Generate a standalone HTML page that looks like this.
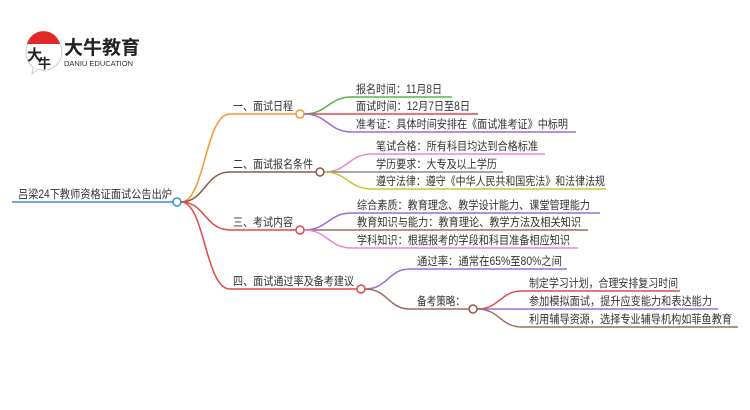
<!DOCTYPE html>
<html><head><meta charset="utf-8"><style>
html,body{margin:0;padding:0;background:#fff;}
svg{display:block}
text{font-family:"Liberation Sans","Noto Sans CJK SC",sans-serif;font-size:11.5px;fill:#333;}
</style></head><body>
<svg width="750" height="410" viewBox="0 0 750 410" xmlns="http://www.w3.org/2000/svg">
<path d="M26 52 a18 18 0 1 1 12 17 l-6 5 l1 -7 a18 18 0 0 1 -7 -15z" fill="#fff" stroke="#ccc" stroke-width="1"/>
<path d="M27 44 a17 17 0 0 1 33 0 z" fill="#e02a2a"/>
<text x="27" y="60" style="font-size:15px;fill:#222;font-weight:bold">大</text>
<text x="38" y="68" style="font-size:13px;fill:#222;font-weight:bold">牛</text>
<text x="64" y="54" style="font-size:19px;fill:#222;font-weight:bold">大牛教育</text>
<text x="64" y="66" style="font-size:7px;fill:#333" textLength="69" lengthAdjust="spacingAndGlyphs">DANIU EDUCATION</text>

<g fill="none" stroke-width="1.5">
<path d="M12 202 H173" stroke="#3a8fd8"/>
<path d="M181 202 C205 202,205 114,230 114 H296" stroke="#f7962c"/>
<path d="M181 202 C205 202,205 172,230 172 H316" stroke="#8f5a4a"/>
<path d="M181 202 C205 202,205 230,230 230 H296" stroke="#e04848"/>
<path d="M181 202 C205 202,205 289,230 289 H357" stroke="#e04848"/>
<path d="M304 114 C328 114,328 97,352 97 H452" stroke="#53b848"/>
<path d="M304 114 H478" stroke="#e04848"/>
<path d="M304 114 C328 114,328 132,352 132 H576" stroke="#9a6cd6"/>
<path d="M324 172 C348 172,348 154,372 154 H545" stroke="#ec86d0"/>
<path d="M324 172 H503" stroke="#888"/>
<path d="M324 172 C348 172,348 189,372 189 H606" stroke="#c8c832"/>
<path d="M304 230 C328 230,328 213,352 213 H600" stroke="#9a6cd6"/>
<path d="M304 230 H588" stroke="#9a6e62"/>
<path d="M304 230 C328 230,328 248,352 248 H578" stroke="#ec86d0"/>
<path d="M365 289 C388 289,388 269,410 269 H567" stroke="#9a6cd6"/>
<path d="M365 289 C388 289,388 309,410 309 H469" stroke="#9a6e62"/>
<path d="M477 309 C500 309,500 291,522 291 H680" stroke="#e04848"/>
<path d="M477 309 H718" stroke="#9a6cd6"/>
<path d="M477 309 C500 309,500 327,522 327 H738" stroke="#9a6e62"/>
</g>
<g fill="#fff" stroke-width="1.5">
<circle cx="177" cy="202" r="4" stroke="#3a8fd8"/>
<circle cx="300" cy="114" r="4" stroke="#f7962c"/>
<circle cx="320" cy="172" r="4" stroke="#8f5a4a"/>
<circle cx="300" cy="230" r="4" stroke="#e04848"/>
<circle cx="361" cy="289" r="4" stroke="#e04848"/>
<circle cx="473" cy="309" r="4" stroke="#8f5a4a"/>
</g>
<text x="18" y="198" textLength="154" lengthAdjust="spacingAndGlyphs">吕梁24下教师资格证面试公告出炉</text>
<text x="233" y="110" textLength="60" lengthAdjust="spacingAndGlyphs">一、面试日程</text>
<text x="233" y="168" textLength="80" lengthAdjust="spacingAndGlyphs">二、面试报名条件</text>
<text x="233" y="226" textLength="60" lengthAdjust="spacingAndGlyphs">三、考试内容</text>
<text x="233" y="285" textLength="121" lengthAdjust="spacingAndGlyphs">四、面试通过率及备考建议</text>
<text x="356" y="93" textLength="86" lengthAdjust="spacingAndGlyphs">报名时间：11月8日</text>
<text x="356" y="110" textLength="114" lengthAdjust="spacingAndGlyphs">面试时间：12月7日至8日</text>
<text x="356" y="128" textLength="212" lengthAdjust="spacingAndGlyphs">准考证：具体时间安排在《面试准考证》中标明</text>
<text x="376" y="150" textLength="162" lengthAdjust="spacingAndGlyphs">笔试合格：所有科目均达到合格标准</text>
<text x="376" y="168" textLength="121" lengthAdjust="spacingAndGlyphs">学历要求：大专及以上学历</text>
<text x="376" y="185" textLength="229" lengthAdjust="spacingAndGlyphs">遵守法律：遵守《中华人民共和国宪法》和法律法规</text>
<text x="357" y="209" textLength="233" lengthAdjust="spacingAndGlyphs">综合素质：教育理念、教学设计能力、课堂管理能力</text>
<text x="357" y="226" textLength="224" lengthAdjust="spacingAndGlyphs">教育知识与能力：教育理论、教学方法及相关知识</text>
<text x="357" y="244" textLength="213" lengthAdjust="spacingAndGlyphs">学科知识：根据报考的学段和科目准备相应知识</text>
<text x="417" y="265" textLength="145" lengthAdjust="spacingAndGlyphs">通过率：通常在65%至80%之间</text>
<text x="417" y="305" textLength="48" lengthAdjust="spacingAndGlyphs">备考策略：</text>
<text x="529" y="287" textLength="149" lengthAdjust="spacingAndGlyphs">制定学习计划，合理安排复习时间</text>
<text x="529" y="305" textLength="183" lengthAdjust="spacingAndGlyphs">参加模拟面试，提升应变能力和表达能力</text>
<text x="529" y="323" textLength="203" lengthAdjust="spacingAndGlyphs">利用辅导资源，选择专业辅导机构如菲鱼教育</text>
</svg>
</body></html>
